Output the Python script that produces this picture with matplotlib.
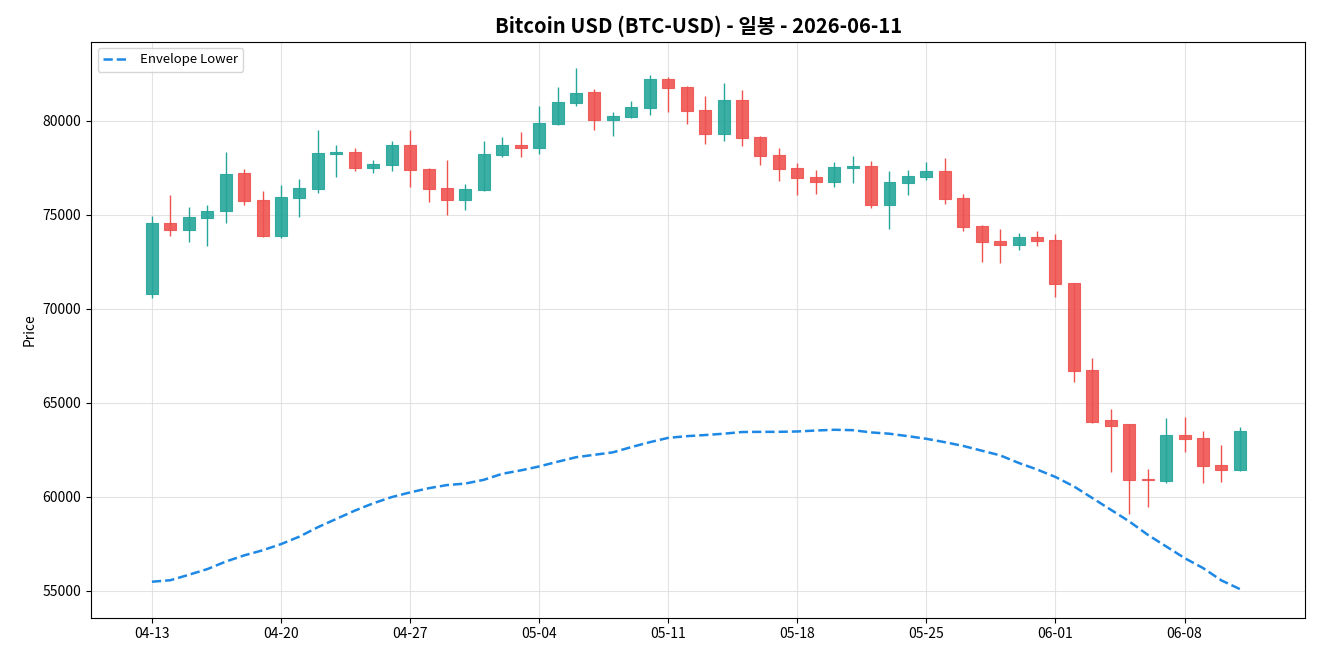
import matplotlib
matplotlib.use("Agg")
import matplotlib.pyplot as plt
import matplotlib.dates as mdates
import numpy as np
import pandas as pd

plt.rcParams['font.family'] = ['Noto Sans CJK KR', 'DejaVu Sans']

# daily OHLC (2026-04-13 .. 2026-06-11)
dates = pd.date_range("2026-04-13", "2026-06-11", freq="D")
opens = [70780, 74560, 74180, 74825, 75175, 77220, 75780, 73870, 75890, 76370,
         78250, 78335, 77485, 77640, 78705, 77430, 76420, 75780, 76315, 78175,
         78705, 78545, 79825, 80940, 81525, 80035, 80195, 80675, 82215, 81795,
         80570, 79290, 81100, 79130, 78175, 77485, 77005, 76740, 77485, 77590,
         75515, 76685, 77005, 77325, 75890, 74400, 73600, 73390, 73815, 73655,
         71365, 66740, 64080, 63865, 60940, 60835, 63280, 63125, 61685, 61420]
highs = [74910, 76060, 75425, 75530, 78350, 77450, 76275, 76600, 76915, 79520,
         78725, 78545, 77925, 78935, 79520, 77500, 77925, 76650, 78935, 79150,
         79415, 80800, 81810, 82820, 81700, 80460, 81065, 82445, 82340, 81830,
         81330, 82020, 81650, 79185, 78565, 77750, 77375, 77805, 78120, 77855,
         77325, 77375, 77805, 78015, 76085, 74470, 74255, 74045, 74150, 73990,
         71365, 67380, 64680, 63865, 61475, 64165, 64220, 63495, 62750, 63710]
lows = [70550, 73850, 73530, 73315, 74540, 75495, 73800, 73740, 74855, 76140,
        76985, 77305, 77200, 77305, 76455, 75655, 74965, 75265, 76275, 78050,
        78050, 78210, 79790, 80760, 79520, 79200, 80120, 80300, 80460, 79825,
        78760, 78920, 78635, 77620, 76770, 76030, 76085, 76455, 76665, 75335,
        74220, 76030, 76845, 75550, 74110, 72460, 72410, 73125, 73315, 70600,
        66080, 63940, 61295, 59060, 59430, 60730, 62355, 60730, 60780, 61365]
closes = [74560, 74180, 74890, 75195, 77165, 75730, 73870, 75960, 76420, 78280,
          78320, 77485, 77695, 78705, 77375, 76370, 75780, 76370, 78230, 78705,
          78545, 79875, 80995, 81475, 80035, 80250, 80730, 82215, 81740, 80515,
          79290, 81100, 79080, 78120, 77430, 76950, 76740, 77540, 77590, 75515,
          76740, 77060, 77325, 75840, 74345, 73550, 73390, 73815, 73600, 71315,
          66685, 63975, 63760, 60890, 60870, 63280, 63070, 61635, 61420, 63495]
env_lower = [55480, 55560, 55850, 56150, 56550, 56880, 57150, 57480, 57880, 58380,
             58820, 59260, 59650, 59980, 60230, 60450, 60620, 60700, 60900, 61220,
             61400, 61610, 61860, 62100, 62230, 62360, 62640, 62900, 63130, 63220,
             63280, 63350, 63440, 63450, 63450, 63470, 63520, 63560, 63540, 63420,
             63350, 63220, 63080, 62900, 62700, 62450, 62200, 61800, 61450, 61050,
             60550, 59930, 59310, 58690, 57980, 57360, 56740, 56210, 55550, 55090]

up_color = '#26a69a'
down_color = '#ef5350'

fig = plt.figure(figsize=(13.2, 6.6), dpi=100)
ax = fig.add_axes([0.069, 0.064, 0.92, 0.873])

x = mdates.date2num(dates)
width = 0.65
for xi, o, h, l, c in zip(x, opens, highs, lows, closes):
    col = up_color if c >= o else down_color
    ax.vlines(xi, l, h, color=col, linewidth=1, zorder=2)
    lo, hi = min(o, c), max(o, c)
    ax.bar(xi, max(hi - lo, 30), width=width, bottom=lo, color=col,
           edgecolor=col, linewidth=0.8, alpha=0.9, zorder=3)

ax.plot(x, env_lower, linestyle='--', color='#1e88e5', linewidth=1.8,
        label='Envelope Lower', zorder=4)

ax.set_xlim(x[0] - 3.3, x[0] + 62.56)
ax.set_ylim(53564, 84202)
ax.set_yticks([55000, 60000, 65000, 70000, 75000, 80000])
ax.set_xticks(x[::7])
ax.xaxis.set_major_formatter(mdates.DateFormatter('%m-%d'))
ax.tick_params(labelsize=10)

ax.set_ylabel('Price', fontsize=10)
ax.set_title('Bitcoin USD (BTC-USD) - 일봉 - 2026-06-11', fontsize=14.5, fontweight='bold')
ax.grid(True, color='#dddddd', linewidth=0.8, alpha=0.8)
ax.set_axisbelow(True)
ax.legend(loc='upper left', fontsize=9.5)

fig.savefig('out.png', dpi=100)
